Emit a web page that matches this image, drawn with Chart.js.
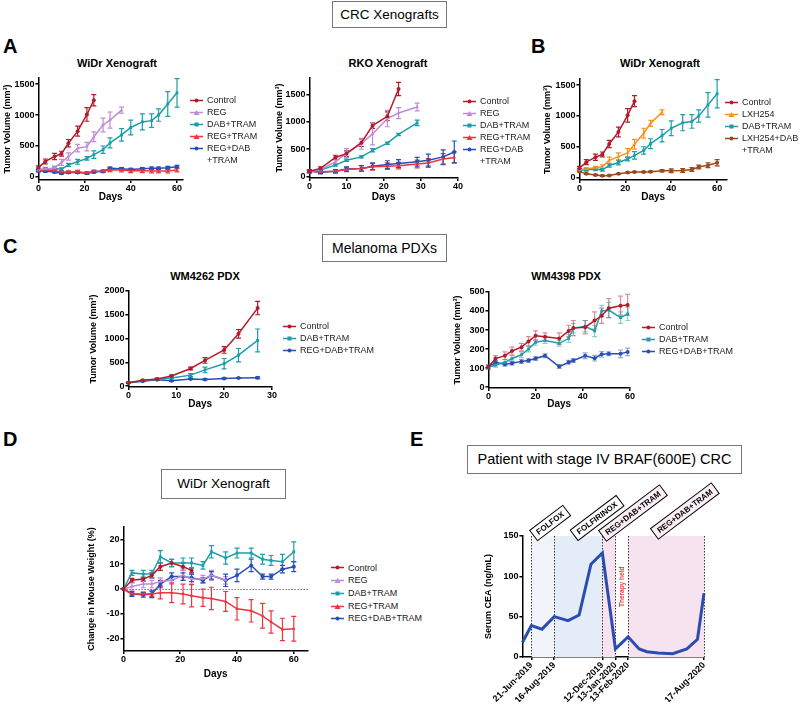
<!DOCTYPE html>
<html lang="en">
<head>
    <meta charset="UTF-8">
    <title>CRC Xenografts</title>
    <script src="https://cdn.jsdelivr.net/npm/chart.js"></script>
    <style>
        body {
            margin: 0;
            width: 800px;
            height: 704px;
            position: relative;
            overflow: hidden;
            background: #fff;
            font-family: "Liberation Sans", Arial, sans-serif;
            color: #000;
        }
        canvas { position: absolute; }
        .letra {
            position: absolute;
            font-weight: bold;
            font-size: 20px;
            line-height: 20px;
        }
        .caja {
            position: absolute;
            box-sizing: border-box;
            border: 1px solid #777;
            text-align: center;
            font-size: 13.5px;
            background: #fff;
        }
        .tituloGrafica {
            position: absolute;
            transform: translateX(-50%);
            font-weight: bold;
            font-size: 11px;
            line-height: 12px;
            white-space: nowrap;
        }
        .leyenda {
            position: absolute;
            font-size: 9px;
            color: #222;
            white-space: nowrap;
        }
        .filaLeyenda {
            position: relative;
            padding-left: 17px;
        }
        .filaLeyenda svg {
            position: absolute;
            left: 0;
        }
    </style>
</head>
<body>
    <div class="letra" style="left:3px;top:36px">A</div>
    <div class="letra" style="left:531px;top:36px">B</div>
    <div class="letra" style="left:3px;top:236px">C</div>
    <div class="letra" style="left:3px;top:429px">D</div>
    <div class="letra" style="left:410px;top:429px">E</div>

    <div class="caja" style="left:332px;top:1px;width:115px;height:27px;line-height:25px">CRC Xenografts</div>
    <div class="caja" style="left:322px;top:234px;width:125px;height:28px;line-height:26px;font-size:14px">Melanoma PDXs</div>
    <div class="caja" style="left:161px;top:469px;width:125px;height:30px;line-height:28px">WiDr Xenograft</div>
    <div class="caja" style="left:467px;top:445px;width:275px;height:29px;line-height:27px;font-size:14.5px">Patient with stage IV BRAF(600E) CRC</div>

    <div class="tituloGrafica" style="left:117px;top:57px">WiDr Xenograft</div>
    <div class="tituloGrafica" style="left:388px;top:57px">RKO Xenograft</div>
    <div class="tituloGrafica" style="left:660px;top:57px">WiDr Xenograft</div>
    <div class="tituloGrafica" style="left:205px;top:270px">WM4262 PDX</div>
    <div class="tituloGrafica" style="left:566px;top:270px">WM4398 PDX</div>

    <script>
        // colores de las series
        const colControl = '#b31b2c';
        const colReg = '#c28ad6';
        const colDabTram = '#1c9eab';
        const colRegTram = '#ef3340';
        const colRegDabTram = '#2a4fb3';
        const colLxh = '#f7931e';
        const colLxhDabTram = '#9a4a1f';

        // WiDr xenograft (A y B)
        const diasWidr = [0, 3, 7, 10, 13, 17, 21, 24, 28, 31, 36, 40, 45, 49, 52, 56, 60];
        const widrControl = [150, 250, 330, 375, 545, 740, 1010, 1240];
        const widrControlErr = [30, 40, 50, 40, 60, 80, 110, 90];
        const widrReg = [120, 130, 145, 235, 330, 465, 490, 650, 840, 920, 1080];
        const widrRegErr = [20, 25, 30, 50, 60, 60, 70, 80, 110, 130, 50];
        const widrDabTram = [120, 125, 135, 125, 195, 245, 300, 360, 440, 550, 680, 800, 890, 910, 1000, 1180, 1360];
        const widrDabTramErr = [20, 20, 25, 20, 25, 40, 30, 60, 60, 80, 100, 120, 130, 110, 100, 200, 230];
        const widrRegTram = [100, 110, 100, 80, 80, 85, 65, 90, 90, 115, 110, 100, 100, 95, 95, 95, 110];
        const widrRegTramErr = [20, 20, 20, 20, 20, 20, 15, 20, 20, 30, 30, 30, 30, 30, 30, 30, 30];
        const widrRegDabTram = [100, 90, 80, 60, 70, 70, 60, 80, 90, 140, 130, 120, 130, 140, 140, 150, 165];
        const widrRegDabTramErr = [15, 15, 15, 15, 15, 15, 15, 15, 15, 20, 20, 20, 20, 20, 20, 20, 20];
        const widrLxh = [130, 140, 160, 175, 280, 340, 400, 540, 720, 880, 1060];
        const widrLxhErr = [20, 20, 20, 30, 50, 60, 70, 80, 80, 50, 40];
        const widrLxhDabTram = [100, 60, 40, 30, 35, 60, 80, 90, 90, 95, 110, 110, 115, 130, 170, 200, 240];
        const widrLxhDabTramErr = [10, 10, 10, 10, 10, 10, 10, 10, 10, 10, 20, 30, 30, 30, 30, 40, 50];

        // RKO xenograft
        const diasRko = [0, 3, 7, 10, 14, 17, 21, 24, 29, 32, 36, 39];
        const rkoControl = [100, 150, 350, 420, 620, 930, 1100, 1600];
        const rkoControlErr = [20, 30, 40, 50, 70, 50, 80, 120];
        const rkoReg = [100, 130, 270, 430, 600, 780, 1060, 1160, 1270];
        const rkoRegErr = [20, 30, 50, 80, 100, 200, 150, 100, 70];
        const rkoDabTram = [100, 120, 210, 300, 360, 480, 610, 770, 980];
        const rkoDabTramErr = [15, 15, 20, 20, 20, 30, 20, 20, 50];
        const rkoRegTram = [100, 90, 100, 130, 150, 180, 190, 200, 230, 250, 320, 350];
        const rkoRegTramErr = [30, 30, 30, 40, 50, 60, 60, 60, 70, 80, 100, 100];
        const rkoRegDabTram = [100, 80, 100, 140, 150, 190, 220, 240, 270, 300, 360, 450];
        const rkoRegDabTramErr = [30, 30, 30, 40, 50, 60, 70, 70, 80, 110, 130, 200];

        // melanoma PDX
        const diasWm4262 = [0, 3, 6, 9, 13, 16, 20, 23, 27];
        const wm4262Control = [70, 120, 150, 210, 370, 540, 760, 1100, 1640];
        const wm4262ControlErr = [10, 15, 15, 20, 30, 60, 70, 90, 140];
        const wm4262DabTram = [70, 110, 140, 170, 230, 340, 470, 650, 960];
        const wm4262DabTramErr = [10, 10, 15, 20, 30, 60, 110, 140, 240];
        const wm4262RegDabTram = [70, 100, 130, 110, 150, 140, 160, 170, 175];
        const wm4262RegDabTramErr = [10, 10, 10, 10, 10, 10, 10, 10, 20];

        const diasWm4398 = [0, 3, 7, 10, 14, 17, 20, 24, 30, 34, 36, 41, 45, 48, 51, 56, 59];
        const wm4398Control = [105, 150, 165, 190, 210, 240, 270, 265, 255, 295, 310, 315, 350, 375, 415, 428, 432];
        const wm4398ControlErr = [10, 15, 20, 20, 20, 25, 25, 20, 30, 30, 40, 35, 45, 40, 50, 50, 55];
        const wm4398DabTram = [105, 115, 130, 150, 170, 200, 235, 245, 230, 255, 310, 320, 295, 400, 405, 365, 385];
        const wm4398DabTramErr = [10, 10, 15, 15, 15, 15, 15, 15, 15, 20, 25, 30, 30, 30, 40, 30, 35];
        const wm4398RegDabTram = [105, 130, 120, 125, 135, 140, 150, 165, 108, 130, 140, 165, 152, 172, 175, 175, 185];
        const wm4398RegDabTramErr = [10, 10, 10, 10, 10, 10, 10, 10, 10, 10, 10, 15, 15, 15, 10, 20, 20];

        // peso de los ratones (D), mismos dias que WiDr
        const pesoControl = [0, 3.5, 4, 5.5, 9, 10.5, 9, 7.5];
        const pesoControlErr = [0, 0.8, 0.8, 1, 1.5, 1.5, 1.5, 1];
        const pesoReg = [0, 1, 2, 2, 3, 3.5, 5.5, 4, 4, 5.5, 3.5];
        const pesoRegErr = [0, 1.5, 1.5, 1.5, 1.5, 1.5, 2, 2, 1.5, 2, 1.5];
        const pesoDabTram = [0, 6.5, 6, 6, 13, 10.5, 10.5, 10.5, 9.5, 15, 12.5, 14.5, 14.5, 12, 11.5, 11, 15];
        const pesoDabTramErr = [0, 1, 1.5, 1.5, 2.5, 1.5, 2, 2, 1.5, 2.5, 2.5, 2, 2, 2, 2, 3, 4];
        const pesoRegTram = [0, -2, -2, -2, -1.5, -1.5, -2, -2.7, -3.5, -3.8, -5, -8, -8.8, -10.8, -13.3, -16.3, -16];
        const pesoRegTramErr = [0, 0.5, 0.5, 1, 2.5, 4, 4, 4.5, 3.5, 4.5, 4, 4.5, 4.5, 5, 4.5, 4.5, 5];
        const pesoRegDabTram = [0, -2, -2.3, -2, 2, 5, 5, 4.5, 3.5, 5.5, 3.5, 5.5, 9.5, 5, 5, 8, 9];
        const pesoRegDabTramErr = [0, 1, 1, 1.5, 1.5, 1.5, 1.5, 1.5, 1, 1.5, 2.5, 2.5, 2.5, 1, 1, 1.5, 2];

        // paciente (E): dias desde 21-Jun-2019
        const ceaDias = [-22, 0, 26, 56, 90, 117, 146, 174, 206, 237, 264, 283, 311, 346, 381, 407, 423];
        const ceaValores = [18, 39, 34.5, 50, 45, 52, 115, 129, 10, 25, 10, 6.5, 5, 4, 10, 22, 79];
        const fechasDias = [0, 56, 174, 206, 237, 423];
        const fechasTexto = ['21-Jun-2019', '16-Aug-2019', '12-Dec-2019', '13-Jan-2020', '13-Feb-2020', '17-Aug-2020'];
        const fasesInicio = [0, 56, 174, 237];
        const fasesFin = [56, 174, 206, 423];
        const fasesNombre = ['FOLFOX', 'FOLFIRINOX', 'REG+DAB+TRAM', 'REG+DAB+TRAM'];
        const fasesColor = ['#f2f3f8', '#e4ecf7', '#f6e3ef', '#f6e3ef'];
        const fasesCaja = ['#ffffff', '#ffffff', '#fbeef5', '#fbeef5'];

        Chart.defaults.font.family = '"Liberation Sans", Arial, sans-serif';
        Chart.defaults.color = '#000';

        function serie(nombre, color, forma, dias, valores, errores, colorError) {
            return { nombre, color, forma, dias, valores, errores, colorError };
        }

        function svgMarcador(color, forma) {
            let m;
            if (forma === 'rect') m = `<rect x="4.5" y="1.5" width="4" height="4" fill="${color}"/>`;
            else if (forma === 'triangle') m = `<polygon points="6.5,1 9.5,6 3.5,6" fill="${color}"/>`;
            else m = `<circle cx="6.5" cy="3.5" r="2" fill="${color}"/>`;
            return `<svg width="13" height="7"><line x1="0" y1="3.5" x2="13" y2="3.5" stroke="${color}" stroke-width="1.5"/>${m}</svg>`;
        }

        function crearLeyenda(series, izq, centro, paso) {
            const div = document.createElement('div');
            div.className = 'leyenda';
            div.style.left = izq + 'px';
            div.style.top = (centro - paso / 2) + 'px';
            series.forEach(s => {
                const fila = document.createElement('div');
                fila.className = 'filaLeyenda';
                fila.style.lineHeight = paso + 'px';
                fila.innerHTML = svgMarcador(s.color, s.forma) + '<span>' + s.nombre.replace('\n', '<br>') + '</span>';
                fila.firstChild.style.top = ((paso - 7) / 2) + 'px';
                div.appendChild(fila);
            });
            document.body.appendChild(div);
        }

        const barrasError = {
            id: 'barrasError',
            beforeDatasetsDraw(chart) {
                const ctx = chart.ctx;
                const y = chart.scales.y;
                chart.data.datasets.forEach((ds, i) => {
                    if (!ds.errores) return;
                    const meta = chart.getDatasetMeta(i);
                    ctx.save();
                    ctx.strokeStyle = ds.colorError || ds.borderColor;
                    ctx.lineWidth = 1.2;
                    meta.data.forEach((pt, j) => {
                        const e = ds.errores[j];
                        if (!e) return;
                        const v = ds.data[j].y;
                        const y1 = y.getPixelForValue(v + e);
                        const y2 = y.getPixelForValue(v - e);
                        ctx.beginPath();
                        ctx.moveTo(pt.x, y1); ctx.lineTo(pt.x, y2);
                        ctx.moveTo(pt.x - 2.5, y1); ctx.lineTo(pt.x + 2.5, y1);
                        ctx.moveTo(pt.x - 2.5, y2); ctx.lineTo(pt.x + 2.5, y2);
                        ctx.stroke();
                    });
                    ctx.restore();
                });
            }
        };

        const lineaCero = {
            id: 'lineaCero',
            beforeDatasetsDraw(chart, args, opts) {
                if (!opts.mostrar) return;
                const { ctx, chartArea: a, scales: { y } } = chart;
                const py = Math.round(y.getPixelForValue(0)) + 0.5;
                ctx.save();
                ctx.strokeStyle = '#777';
                ctx.setLineDash([1.5, 1.5]);
                ctx.lineWidth = 1;
                ctx.beginPath(); ctx.moveTo(a.left, py); ctx.lineTo(a.right, py); ctx.stroke();
                ctx.restore();
            }
        };

        function crearGrafica(cfg) {
            const c = cfg.caja;
            const lhY = cfg.fuenteY * 1.2;
            const anchoY = c.izq - (cfg.tituloYx - lhY / 2);
            const altoX = cfg.altoX !== undefined ? cfg.altoX : (cfg.diasY + 6) - c.abajo;
            const pad = { left: 2, top: cfg.padArriba || 10, right: cfg.padDer || 14, bottom: 2 };
            const canvas = document.createElement('canvas');
            canvas.width = (c.der - c.izq) + anchoY + pad.left + pad.right;
            canvas.height = (c.abajo - c.arriba) + altoX + pad.top + pad.bottom;
            canvas.style.left = (c.izq - anchoY - pad.left) + 'px';
            canvas.style.top = (c.arriba - pad.top) + 'px';
            document.body.appendChild(canvas);

            const datasets = cfg.series.map(s => ({
                label: s.nombre,
                data: s.valores.map((v, i) => ({ x: s.dias[i], y: v })),
                errores: s.errores,
                colorError: s.colorError,
                borderColor: s.color,
                backgroundColor: s.color,
                borderWidth: cfg.grosor || 1.5,
                pointRadius: cfg.radio === undefined ? 2 : cfg.radio,
                pointStyle: s.forma,
                pointBorderWidth: 0,
                tension: 0,
                clip: false
            }));

            const ejeComun = {
                type: 'linear',
                border: { color: '#000', width: 1.5 },
                grid: { drawOnChartArea: false, color: '#000', lineWidth: 1.5, tickLength: 3 },
                ticks: { color: '#000', font: { size: 9, weight: 'bold' }, autoSkip: false, callback: v => String(v) }
            };

            new Chart(canvas.getContext('2d'), {
                type: 'line',
                data: { datasets: datasets },
                options: {
                    responsive: false,
                    animation: false,
                    events: [],
                    layout: { padding: pad },
                    plugins: {
                        legend: { display: false },
                        tooltip: { enabled: false },
                        lineaCero: { mostrar: !!cfg.lineaCero }
                    },
                    scales: {
                        x: {
                            ...ejeComun,
                            min: cfg.xMin, max: cfg.xMax,
                            afterBuildTicks: s => { s.ticks = cfg.xTicks.map(v => ({ value: v })); },
                            afterFit: s => { s.height = altoX; },
                            ticks: {
                                ...ejeComun.ticks,
                                padding: 0,
                                minRotation: cfg.rotacion || 0,
                                maxRotation: cfg.rotacion || 0,
                                callback: cfg.etiquetaX || (v => String(v))
                            },
                            title: {
                                display: !!cfg.tituloX, text: cfg.tituloX, color: '#000',
                                font: { size: 10, weight: 'bold' }, padding: 0
                            }
                        },
                        y: {
                            ...ejeComun,
                            min: cfg.yMin, max: cfg.yMax,
                            afterBuildTicks: s => { s.ticks = cfg.yTicks.map(v => ({ value: v })); },
                            afterFit: s => { s.width = anchoY; },
                            ticks: { ...ejeComun.ticks, padding: 1 },
                            title: {
                                display: true, text: cfg.tituloY, color: '#000',
                                font: { size: cfg.fuenteY, weight: 'bold' }, padding: 0
                            }
                        }
                    }
                },
                plugins: [barrasError, lineaCero].concat(cfg.extras || [])
            });
        }

        function claro(hex) {
            const n = parseInt(hex.slice(1), 16);
            return `rgba(${n >> 16},${(n >> 8) & 255},${n & 255},0.5)`;
        }

        // A izquierda: WiDr
        const seriesA1 = [
            serie('Control', colControl, 'circle', diasWidr, widrControl, widrControlErr),
            serie('REG', colReg, 'triangle', diasWidr, widrReg, widrRegErr),
            serie('DAB+TRAM', colDabTram, 'rect', diasWidr, widrDabTram, widrDabTramErr),
            serie('REG+TRAM', colRegTram, 'triangle', diasWidr, widrRegTram, widrRegTramErr),
            serie('REG+DAB\n+TRAM', colRegDabTram, 'circle', diasWidr, widrRegDabTram, widrRegDabTramErr)
        ];
        crearGrafica({
            caja: { izq: 38, der: 183, arriba: 78, abajo: 180 },
            xMin: 0, xMax: 62.6, xTicks: [0, 20, 40, 60],
            yMin: -50, yMax: 1600, yTicks: [0, 500, 1000, 1500],
            tituloY: 'Tumor Volume (mm³)', fuenteY: 9, tituloYx: 7,
            tituloX: 'Days', diasY: 197,
            series: seriesA1
        });
        crearLeyenda(seriesA1, 190, 100, 12);

        // A derecha: RKO
        const seriesA2 = [
            serie('Control', colControl, 'circle', diasRko, rkoControl, rkoControlErr),
            serie('REG', colReg, 'triangle', diasRko, rkoReg, rkoRegErr),
            serie('DAB+TRAM', colDabTram, 'rect', diasRko, rkoDabTram, rkoDabTramErr),
            serie('REG+TRAM', colRegTram, 'triangle', diasRko, rkoRegTram, rkoRegTramErr),
            serie('REG+DAB\n+TRAM', colRegDabTram, 'circle', diasRko, rkoRegDabTram, rkoRegDabTramErr)
        ];
        crearGrafica({
            caja: { izq: 309, der: 458, arriba: 78, abajo: 178 },
            xMin: 0, xMax: 40, xTicks: [0, 10, 20, 30, 40],
            yMin: -25, yMax: 1800, yTicks: [0, 500, 1000, 1500],
            tituloY: 'Tumor Volume (mm³)', fuenteY: 9, tituloYx: 279,
            tituloX: 'Days', diasY: 197,
            series: seriesA2
        });
        crearLeyenda(seriesA2, 463, 101, 12);

        // B: WiDr con LXH254
        const seriesB = [
            serie('Control', colControl, 'circle', diasWidr, widrControl, widrControlErr),
            serie('LXH254', colLxh, 'triangle', diasWidr, widrLxh, widrLxhErr),
            serie('DAB+TRAM', colDabTram, 'rect', diasWidr, widrDabTram, widrDabTramErr),
            serie('LXH254+DAB\n+TRAM', colLxhDabTram, 'circle', diasWidr, widrLxhDabTram, widrLxhDabTramErr)
        ];
        crearGrafica({
            caja: { izq: 579, der: 727, arriba: 79, abajo: 180 },
            xMin: 0, xMax: 64.3, xTicks: [0, 20, 40, 60],
            yMin: -40, yMax: 1600, yTicks: [0, 500, 1000, 1500],
            tituloY: 'Tumor Volume (mm³)', fuenteY: 9, tituloYx: 547,
            tituloX: 'Days', diasY: 197,
            series: seriesB
        });
        crearLeyenda(seriesB, 725, 102, 12);

        // C izquierda: WM4262
        const seriesC1 = [
            serie('Control', colControl, 'circle', diasWm4262, wm4262Control, wm4262ControlErr),
            serie('DAB+TRAM', colDabTram, 'rect', diasWm4262, wm4262DabTram, wm4262DabTramErr),
            serie('REG+DAB+TRAM', colRegDabTram, 'circle', diasWm4262, wm4262RegDabTram, wm4262RegDabTramErr)
        ];
        crearGrafica({
            caja: { izq: 128, der: 272, arriba: 291, abajo: 387 },
            xMin: 0, xMax: 30, xTicks: [0, 10, 20, 30],
            yMin: -20, yMax: 2000, yTicks: [0, 500, 1000, 1500, 2000],
            tituloY: 'Tumor Volume (mm³)', fuenteY: 9, tituloYx: 93,
            tituloX: 'Days', diasY: 404,
            series: seriesC1
        });
        crearLeyenda(seriesC1, 283, 326, 12);

        // C derecha: WM4398
        const seriesC2 = [
            serie('Control', colControl, 'circle', diasWm4398, wm4398Control, wm4398ControlErr, claro(colControl)),
            serie('DAB+TRAM', colDabTram, 'rect', diasWm4398, wm4398DabTram, wm4398DabTramErr, claro(colDabTram)),
            serie('REG+DAB+TRAM', colRegDabTram, 'circle', diasWm4398, wm4398RegDabTram, wm4398RegDabTramErr, claro(colRegDabTram))
        ];
        crearGrafica({
            caja: { izq: 488, der: 630, arriba: 292, abajo: 388 },
            xMin: 0, xMax: 60, xTicks: [0, 20, 40, 60],
            yMin: -5, yMax: 500, yTicks: [0, 100, 200, 300, 400, 500],
            tituloY: 'Tumor Volume (mm³)', fuenteY: 9, tituloYx: 457,
            tituloX: 'Days', diasY: 404,
            series: seriesC2
        });
        crearLeyenda(seriesC2, 642, 327, 12);

        // D: peso
        const seriesD = [
            serie('Control', colControl, 'circle', diasWidr, pesoControl, pesoControlErr),
            serie('REG', colReg, 'triangle', diasWidr, pesoReg, pesoRegErr),
            serie('DAB+TRAM', colDabTram, 'rect', diasWidr, pesoDabTram, pesoDabTramErr),
            serie('REG+TRAM', colRegTram, 'triangle', diasWidr, pesoRegTram, pesoRegTramErr),
            serie('REG+DAB+TRAM', colRegDabTram, 'circle', diasWidr, pesoRegDabTram, pesoRegDabTramErr)
        ];
        crearGrafica({
            caja: { izq: 123, der: 308, arriba: 527, abajo: 651 },
            xMin: 0, xMax: 65, xTicks: [0, 20, 40, 60],
            yMin: -25, yMax: 25, yTicks: [-20, -10, 0, 10, 20],
            tituloY: 'Change in Mouse Weight (%)', fuenteY: 9, tituloYx: 91,
            tituloX: 'Days', diasY: 674,
            lineaCero: true,
            series: seriesD
        });
        crearLeyenda(seriesD, 331, 568, 12.7);

        // E: CEA del paciente
        const posEtiquetaDia = [46, 161, 249, 376];
        const posEtiquetaAlto = [13, 18, 23, 25];
        const fasesE = {
            id: 'fasesE',
            beforeDatasetsDraw(chart) {
                const { ctx, chartArea: a, scales: { x, y } } = chart;
                ctx.save();
                fasesInicio.forEach((ini, i) => {
                    const x1 = x.getPixelForValue(ini);
                    const x2 = x.getPixelForValue(fasesFin[i]);
                    ctx.fillStyle = fasesColor[i];
                    ctx.fillRect(x1, y.getPixelForValue(150), x2 - x1, y.getPixelForValue(0) - y.getPixelForValue(150));
                });
                ctx.strokeStyle = '#333';
                ctx.setLineDash([1.5, 1.5]);
                ctx.lineWidth = 1;
                fechasDias.forEach(d => {
                    const px = Math.round(x.getPixelForValue(d)) + 0.5;
                    ctx.beginPath(); ctx.moveTo(px, a.top); ctx.lineTo(px, a.bottom); ctx.stroke();
                });
                ctx.restore();
            },
            afterDraw(chart) {
                const { ctx, chartArea: a, scales: { x, y } } = chart;
                fasesNombre.forEach((nombre, i) => {
                    ctx.save();
                    ctx.translate(x.getPixelForValue(posEtiquetaDia[i]), a.top - posEtiquetaAlto[i]);
                    ctx.rotate(-37 * Math.PI / 180);
                    ctx.font = 'bold 8px "Liberation Sans", Arial, sans-serif';
                    const w = ctx.measureText(nombre).width + 9;
                    const h = 13;
                    ctx.fillStyle = fasesCaja[i];
                    ctx.fillRect(-w / 2, -h / 2, w, h);
                    ctx.strokeStyle = '#000';
                    ctx.lineWidth = 1;
                    ctx.strokeRect(-w / 2, -h / 2, w, h);
                    ctx.fillStyle = '#000';
                    ctx.textAlign = 'center';
                    ctx.textBaseline = 'middle';
                    ctx.fillText(nombre, 0, 0.5);
                    ctx.restore();
                });
                ctx.save();
                ctx.translate(x.getPixelForValue(221.5), y.getPixelForValue(87));
                ctx.rotate(-Math.PI / 2);
                ctx.font = 'bold 6.5px "Liberation Sans", Arial, sans-serif';
                ctx.fillStyle = '#e23b3b';
                ctx.textAlign = 'center';
                ctx.textBaseline = 'middle';
                ctx.fillText('Therapy held', 0, 0);
                ctx.restore();
            }
        };
        crearGrafica({
            caja: { izq: 522, der: 704, arriba: 536, abajo: 657 },
            xMin: -22, xMax: 423, xTicks: fechasDias,
            etiquetaX: v => fechasTexto[fechasDias.indexOf(v)],
            rotacion: 45, altoX: 45,
            yMin: 0, yMax: 150, yTicks: [0, 50, 100, 150],
            tituloY: 'Serum CEA (ng/mL)', fuenteY: 9, tituloYx: 488,
            padArriba: 66, padDer: 20,
            grosor: 3, radio: 0,
            series: [serie('CEA', '#2a4db0', 'circle', ceaDias, ceaValores)],
            extras: [fasesE]
        });
    </script>
</body>
</html>
